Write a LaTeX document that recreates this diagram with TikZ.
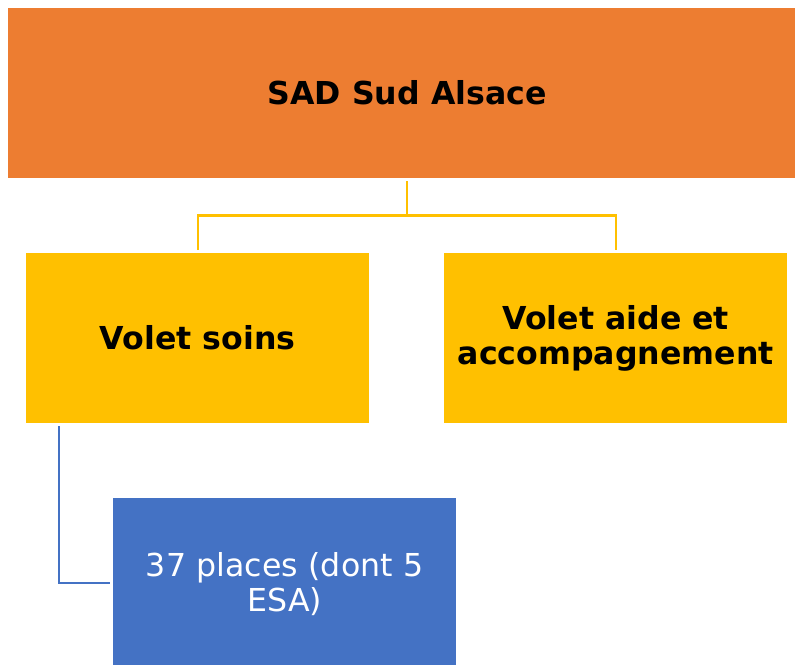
\documentclass[tikz,border=0pt]{standalone}
\usepackage{fontspec}
\setmainfont{DejaVu Sans}
\definecolor{orangeA}{HTML}{ED7D31}
\definecolor{yellowA}{HTML}{FFC000}
\definecolor{blueA}{HTML}{4472C4}
\begin{document}
\begin{tikzpicture}[x=1pt,y=-1pt,
  boxA/.style={rectangle, inner sep=0pt, anchor=north west, align=center},
  headbox/.style={boxA, fill=orangeA, font=\bfseries\fontsize{31.6}{35}\selectfont},
  midbox/.style={boxA, fill=yellowA, font=\bfseries\fontsize{31.6}{35}\selectfont},
  lowbox/.style={boxA, fill=blueA, text=white, font=\fontsize{31.6}{35}\selectfont},
  yconn/.style={draw=yellowA, line width=2.2pt},
  bconn/.style={draw=blueA, line width=2.2pt}]
\useasboundingbox (0,0) rectangle (795,664);
\begin{scope}
\clip (0,0) rectangle (795,664);
\node[headbox, minimum width=798pt, minimum height=170pt] (top) at (8,8) {SAD Sud Alsace};
\node[midbox, minimum width=343pt, minimum height=170pt] (soins) at (26,253) {Volet soins};
\node[midbox, minimum width=343pt, minimum height=170pt] (aide) at (444,253) {Volet aide et\\accompagnement};
\node[lowbox, minimum width=343pt, minimum height=172pt, text width=320pt] (places) at (113,498) {37 places (dont 5\\ESA)};
\end{scope}
\draw[yconn] ([yshift=-3pt]top.south) -- ++(0,34) -| ([yshift=3pt]soins.north);
\draw[yconn] ([yshift=-3pt]top.south) -- ++(0,34) -| ([yshift=3pt]aide.north);
\coordinate (bstart) at ([xshift=33pt,yshift=-3pt]soins.south west);
\draw[bconn] (bstart) |- ([xshift=-3pt]places.west |- 0,583);
\end{tikzpicture}
\end{document}
